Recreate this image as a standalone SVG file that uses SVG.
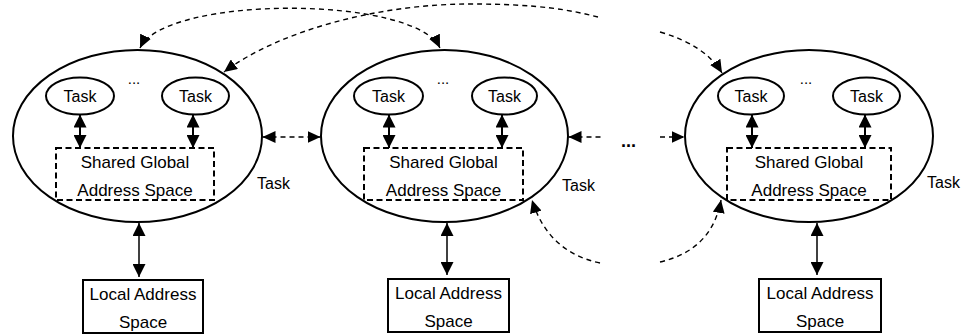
<svg xmlns="http://www.w3.org/2000/svg" width="961" height="335" viewBox="0 0 961 335">
<style>
text{font-family:"Liberation Sans",Arial,sans-serif;fill:#000}
.big{fill:none;stroke:#000;stroke-width:2}
.task{fill:none;stroke:#000;stroke-width:2}
.sga{fill:none;stroke:#000;stroke-width:2;stroke-dasharray:6,3.5}
.lbox{fill:#fff;stroke:#000;stroke-width:2}
.t16{font-size:16px}
.t17{font-size:17px}
.dots{font-size:15px}
.dbl{stroke:#000;stroke-width:2;marker-start:url(#ahb);marker-end:url(#ahb)}
.vert{stroke:#000;stroke-width:1.5;marker-start:url(#ahb);marker-end:url(#ahb)}
.dash{fill:none;stroke:#000;stroke-width:1.4;stroke-dasharray:5,4}
</style>
<defs>
<marker id="ah" viewBox="0 0 12 12" refX="12" refY="6" markerWidth="13" markerHeight="12" markerUnits="userSpaceOnUse" orient="auto-start-reverse" preserveAspectRatio="none"><path d="M0,0 L12,6 L0,12 z" fill="#000"/></marker>
<marker id="ahb" viewBox="0 0 12 12" refX="12" refY="6" markerWidth="13" markerHeight="13" markerUnits="userSpaceOnUse" orient="auto-start-reverse" preserveAspectRatio="none"><path d="M0,0 L12,6 L0,12 z" fill="#000"/></marker>
</defs>

<g id="node1">
<ellipse class="big" cx="137.5" cy="136" rx="124.5" ry="86"/>
<ellipse class="task" cx="80" cy="96" rx="34" ry="18.5"/>
<text class="t16" x="80" y="102" text-anchor="middle">Task</text>
<text class="dots" x="134" y="84" text-anchor="middle">...</text>
<ellipse class="task" cx="195.5" cy="96" rx="33.5" ry="18.5"/>
<text class="t16" x="195.5" y="102" text-anchor="middle">Task</text>
<rect class="sga" x="56" y="148" width="158" height="52"/>
<text class="t17" x="135" y="168" text-anchor="middle">Shared Global</text>
<text class="t17" x="135" y="196" text-anchor="middle">Address Space</text>
<text class="t16" x="257" y="189">Task</text>
</g>

<g id="node2">
<ellipse class="big" cx="444.5" cy="136" rx="123.5" ry="86"/>
<ellipse class="task" cx="388.5" cy="96" rx="34.5" ry="18.5"/>
<text class="t16" x="388.5" y="102" text-anchor="middle">Task</text>
<text class="dots" x="443" y="84" text-anchor="middle">...</text>
<ellipse class="task" cx="504.5" cy="96" rx="32.5" ry="18.5"/>
<text class="t16" x="504.5" y="102" text-anchor="middle">Task</text>
<rect class="sga" x="364" y="148" width="159" height="52"/>
<text class="t17" x="443.5" y="168" text-anchor="middle">Shared Global</text>
<text class="t17" x="443.5" y="196" text-anchor="middle">Address Space</text>
<text class="t16" x="562" y="191">Task</text>
</g>

<g id="node3">
<ellipse class="big" cx="809" cy="136" rx="124" ry="86"/>
<ellipse class="task" cx="751" cy="96" rx="33" ry="18.5"/>
<text class="t16" x="751" y="102" text-anchor="middle">Task</text>
<text class="dots" x="806" y="84" text-anchor="middle">...</text>
<ellipse class="task" cx="866.5" cy="96" rx="33.5" ry="18.5"/>
<text class="t16" x="866.5" y="102" text-anchor="middle">Task</text>
<rect class="sga" x="727" y="148" width="164" height="52"/>
<text class="t17" x="809" y="168" text-anchor="middle">Shared Global</text>
<text class="t17" x="809" y="196" text-anchor="middle">Address Space</text>
<text class="t16" x="927" y="188">Task</text>
</g>

<g id="local1">
<rect class="lbox" x="83" y="280" width="120" height="53"/>
<text class="t17" x="143" y="300" text-anchor="middle">Local Address</text>
<text class="t17" x="143" y="328" text-anchor="middle">Space</text>
</g>
<g id="local2">
<rect class="lbox" x="388" y="279" width="121" height="53"/>
<text class="t17" x="448.5" y="299" text-anchor="middle">Local Address</text>
<text class="t17" x="448.5" y="327" text-anchor="middle">Space</text>
</g>
<g id="local3">
<rect class="lbox" x="759" y="279" width="122" height="53"/>
<text class="t17" x="820" y="299" text-anchor="middle">Local Address</text>
<text class="t17" x="820" y="327" text-anchor="middle">Space</text>
</g>

<g id="gap-dots">
<text x="628.5" y="147" text-anchor="middle" style="font-size:18px;font-weight:bold">...</text>
</g>

<g id="connectors">
<line class="dbl" x1="80" y1="114.5" x2="80" y2="148"/>
<line class="dbl" x1="193" y1="114.5" x2="193" y2="148"/>
<line class="dbl" x1="389" y1="114.5" x2="389" y2="148"/>
<line class="dbl" x1="502" y1="114.5" x2="502" y2="148"/>
<line class="dbl" x1="752" y1="114.5" x2="752" y2="148"/>
<line class="dbl" x1="865" y1="114.5" x2="865" y2="148"/>
<line class="vert" x1="139" y1="223" x2="139" y2="277"/>
<line class="vert" x1="447" y1="223" x2="447" y2="275"/>
<line class="vert" x1="817" y1="223" x2="817" y2="275"/>
<path class="dash" d="M262.5,137 L320.5,137" marker-start="url(#ah)" marker-end="url(#ah)"/>
<path class="dash" d="M568.5,137 L601,137" marker-start="url(#ah)"/>
<path class="dash" d="M660,137 L684.5,137" marker-end="url(#ah)"/>
<path class="dash" d="M140,48 C165,-5 415,-5 440,48" marker-start="url(#ah)" marker-end="url(#ah)"/>
<path class="dash" d="M598,17 C570,10 540,4 470,4 C380,4 280,30 224,72" marker-end="url(#ah)"/>
<path class="dash" d="M660,32 Q705,45 722,73" marker-end="url(#ah)"/>
<path class="dash" d="M600,263 Q548,252 532,200" marker-end="url(#ah)"/>
<path class="dash" d="M660,262 Q712,250 721,200" marker-end="url(#ah)"/>
</g>
</svg>
